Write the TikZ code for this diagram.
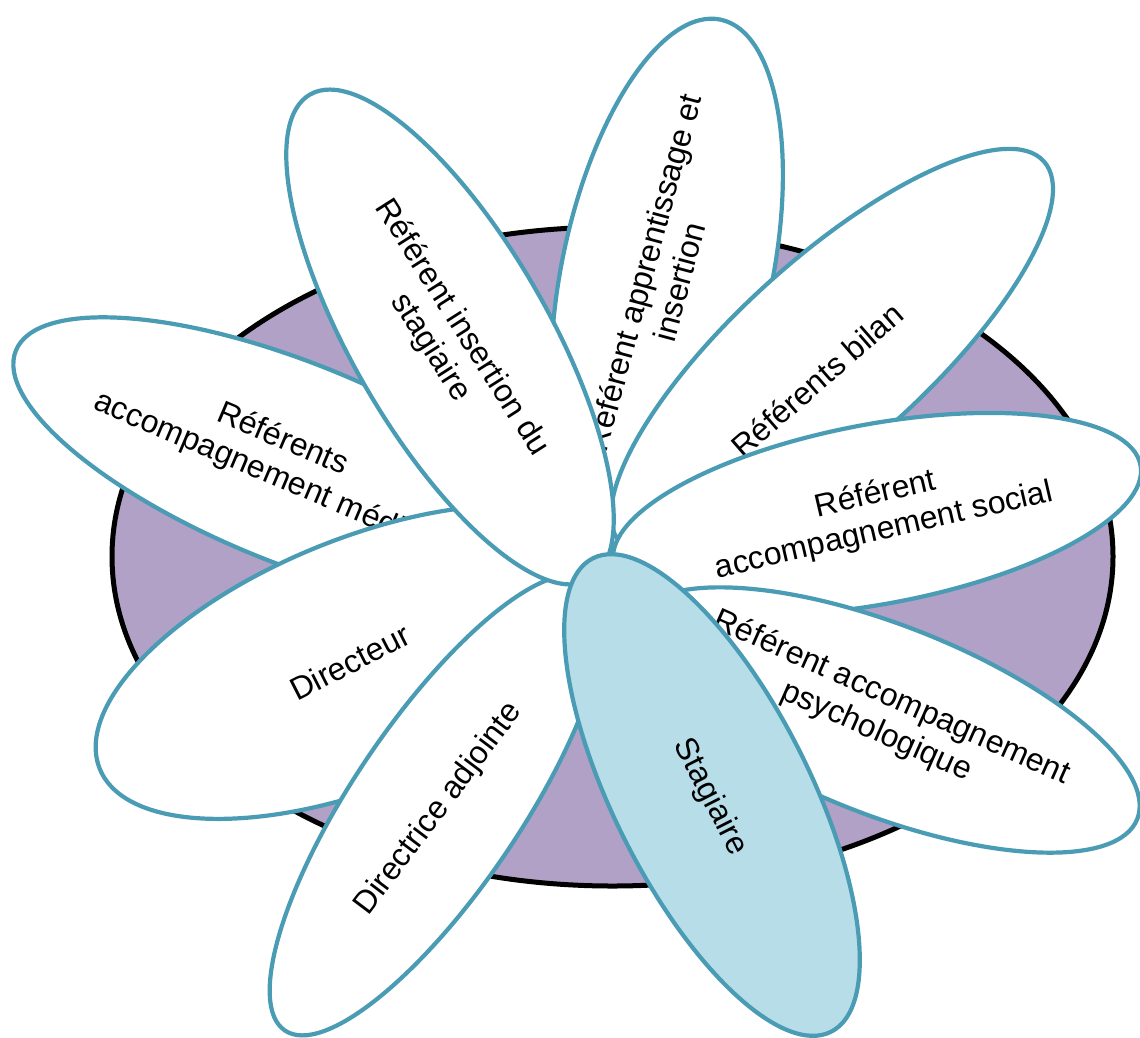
\documentclass[tikz,border=0pt]{standalone}
\usepackage{fontspec}
\setmainfont{Liberation Sans}
\usetikzlibrary{shapes.geometric}
\definecolor{petalline}{HTML}{4A9BB4}
\definecolor{basefill}{HTML}{B2A1C7}
\definecolor{stagiairefill}{HTML}{B7DDE8}
\tikzset{
  petal/.style n args={3}{ellipse, draw=petalline, fill=white, line width=4.2pt, inner sep=0pt,
    minimum width=#1, minimum height=#2, rotate=#3},
  petal text/.style={align=center, text=black, font=\fontsize{32}{37}\selectfont},
  base/.style={ellipse, draw=black, fill=basefill, line width=5pt, inner sep=0pt}
}

\begin{document}
\begin{tikzpicture}[x=1pt, y=-1pt]
  \useasboundingbox (0,0) rectangle (1140,1037);

  \node[base, minimum width=1001pt, minimum height=659pt] (base) at (612.5,556.5) {};

  \node[petal={600pt}{200pt}{-22}] (medical) at (294,463) {};
  \node[petal text, rotate=-23] (medical text) at (275,457) {Référents\\accompagnement médical};

  \node[petal={516pt}{210pt}{78}] (apprentissage) at (667,272) {};
  \node[petal text, rotate=75] (apprentissage text) at (661,277) {Référent apprentissage et\\insertion};

  \node[petal={570pt}{188pt}{42}] (bilan) at (832,352) {};
  \node[petal text, rotate=41] (bilan text) at (817,380) {Référents bilan};

  \node[petal={570pt}{248pt}{22}] (directeur) at (364,662) {};
  \node[petal text, rotate=27] (directeur text) at (350,662) {Directeur};

  \node[petal={544pt}{168pt}{56}] (directrice) at (437,805) {};
  \node[petal text, rotate=53] (directrice text) at (439,809) {Directrice adjointe};

  \node[petal={560pt}{196pt}{-60}] (insertion) at (450,337) {};
  \node[petal text, rotate=-57.5] (insertion text) at (446,338) {Référent insertion du\\stagiaire};

  \node[petal={536pt}{180pt}{10.5}] (social) at (877,514) {};
  \node[petal text, rotate=13] (social text) at (880,513) {Référent\\accompagnement social};

  \node[petal={542pt}{190pt}{-21.4}] (psy) at (885,720) {};
  \node[petal text, rotate=-24] (psy text) at (884,715) {Référent accompagnement\\psychologique};

  \node[petal={530pt}{196pt}{-63.3}, fill=stagiairefill] (stagiaire) at (712,795) {};
  \node[petal text, rotate=-63] (stagiaire text) at (710,797) {Stagiaire};
\end{tikzpicture}
\end{document}
